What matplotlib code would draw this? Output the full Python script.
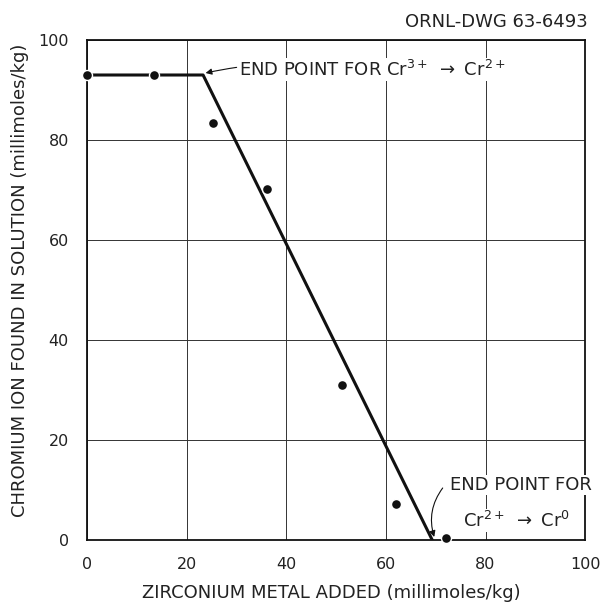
import matplotlib
matplotlib.use("Agg")
import matplotlib.pyplot as plt

# Data
zr_added = [0, 13.4, 25.2, 36.2, 51.2, 62.0, 72.1]
cr_found = [93, 93, 83.3, 70.1, 31, 7.2, 0.4]
fit_x = [0, 23.3, 69.3]
fit_y = [93, 93, 0]
ticks = [0, 20, 40, 60, 80, 100]

plt.rcParams['font.family'] = ['DejaVu Sans']
fig = plt.figure(figsize=(6.06, 6.07), dpi=100)
ax = fig.add_axes([0.1436, 0.1104, 0.822, 0.8237])

ax.set_xlim(0, 100)
ax.set_ylim(0, 100)
ax.set_xticks(ticks)
ax.set_yticks(ticks)
ax.tick_params(length=0, labelsize=11.5, colors='#222222')
ax.tick_params(axis='x', pad=12)
ax.tick_params(axis='y', pad=13)
ax.grid(True, color='#333333', linewidth=0.7)
ax.set_axisbelow(True)
for s in ax.spines.values():
    s.set_linewidth(1.3)
    s.set_color('#111111')

ax.plot(fit_x, fit_y, color='#111111', linewidth=2.2, zorder=3)
ax.plot(zr_added, cr_found, 'o', color='#111111', markersize=7.2,
        markeredgecolor='white', markeredgewidth=1.0, zorder=4, clip_on=False)

ax.set_xlabel('ZIRCONIUM METAL ADDED (millimoles/kg)', fontsize=13, color='#222222', va='center')
ax.xaxis.set_label_coords(0.49, -0.106)
ax.set_ylabel('CHROMIUM ION FOUND IN SOLUTION (millimoles/kg)', fontsize=13, color='#222222', va='center')
ax.yaxis.set_label_coords(-0.1345, 0.52)

ax.annotate(r'END POINT FOR Cr$^{3+}$ $\rightarrow$ Cr$^{2+}$', xy=(23.8, 93.4), xytext=(30.6, 92.8),
            fontsize=13, va='baseline', ha='left', color='#222222',
            bbox=dict(facecolor='white', edgecolor='none', pad=1),
            arrowprops=dict(arrowstyle='-|>', color='#111111', lw=0.8, mutation_scale=9,
                            connectionstyle='arc3,rad=0.1', shrinkA=1, shrinkB=0))

ax.text(72.9, 10.0, 'END POINT FOR', fontsize=13, ha='left', va='baseline', color='#222222',
        bbox=dict(facecolor='white', edgecolor='none', pad=1), zorder=5, clip_on=False)
ax.text(75.4, 2.6, r'Cr$^{2+}$ $\rightarrow$ Cr$^{0}$', fontsize=13, ha='left', va='baseline', color='#222222',
        bbox=dict(facecolor='white', edgecolor='none', pad=1), zorder=5, clip_on=False)
ax.annotate('', xy=(69.7, 0.6), xytext=(71.4, 10.4),
            arrowprops=dict(arrowstyle='-|>', color='#111111', lw=0.8, mutation_scale=9,
                            connectionstyle='arc3,rad=0.25', shrinkA=0, shrinkB=0))

fig.text(0.970, 0.964, 'ORNL-DWG 63-6493', fontsize=13, ha='right', va='center', color='#222222')

fig.savefig('out.png', dpi=100)
